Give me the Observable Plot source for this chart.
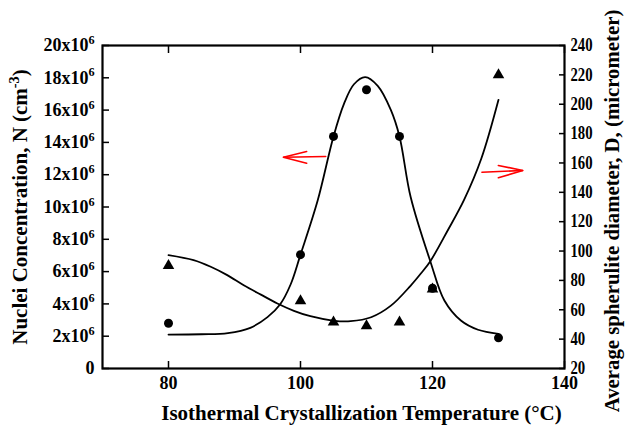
<!DOCTYPE html>
<html><head><meta charset="utf-8">
<script src="https://cdn.jsdelivr.net/npm/d3@7"></script>
<script src="https://cdn.jsdelivr.net/npm/@observablehq/plot@0.6"></script>
<style>body{margin:0;background:#fff}</style>
</head><body><div id="chart"></div>
<script>
// Measured data (x: °C; nuclei in units of 10^6 cm^-3; diameter in micrometer)
const temps = [80, 100, 105, 110, 115, 120, 130];
const nuclei = [2.8, 7.05, 14.37, 17.26, 14.37, 4.97, 1.9];
const diam = [90, 66, 51.5, 49, 51.5, 74, 220];

// Fitted curves
const fitNT = [80, 85, 89, 92.4, 95, 96.9, 98.5, 100, 102.6, 105, 106.6, 108.1, 109.8, 111.7, 113.7, 115, 116.7, 119.7, 121.8, 124.3, 126.9, 130];
const fitNV = [2.1, 2.12, 2.19, 2.52, 3.18, 3.96, 5.2, 7.05, 10.4, 14.37, 16.4, 17.6, 18.04, 17.5, 16.0, 14.37, 10.6, 6.6, 4.21, 2.97, 2.4, 2.15];
const fitDT = [80, 83.8, 86.4, 88.9, 91.4, 94.0, 96.5, 99.0, 101.5, 105.1, 107.6, 110.7, 113.7, 116.7, 118.2, 119.7, 122.3, 124.8, 127.4, 130];
const fitDV = [97.2, 93.8, 89.3, 83.6, 76.7, 70.3, 64.3, 59.3, 55.6, 52.5, 52.2, 54.9, 62.8, 76.5, 84.5, 93.3, 114, 135, 163, 203];

// Red annotation arrows (left one on left axis, right one on right axis)
const arrowLeftX = [103.82, 97.4];
const arrowLeftY = [13.13, 13.08];
const arrowLeftHeadX = [100.93, 97.4, 100.93];
const arrowLeftHeadY = [13.44, 13.08, 12.71];
const arrowRightX = [127.49, 133.69];
const arrowRightY = [153.7, 154.9];
const arrowRightHeadX = [129.98, 133.69, 129.98];
const arrowRightHeadY = [158.3, 154.9, 149.9];

// Ticks
const xTicks = [80, 100, 120, 140];
const yLeftTicks = [0, 2, 4, 6, 8, 10, 12, 14, 16, 18, 20];
const yRightTicks = [20, 40, 60, 80, 100, 120, 140, 160, 180, 200, 220, 240];

const xLabel = "Isothermal Crystallization Temperature (°C)";
const yLeftLabel = "Nuclei Concentration, N (cm^{-3})";
const yRightLabel = "Average spherulite diameter, D, (micrometer)";

// right axis (20..240) mapped onto left scale (0..20)
const toLeft = d => (d - 20) / 220 * 20;
const fromLeft = v => v / 20 * 220 + 20;

const circles = temps.map((t, i) => ({t, v: nuclei[i]}));
const tris = temps.map((t, i) => ({t, v: toLeft(diam[i])}));
const fitN = fitNT.map((t, i) => ({t, v: fitNV[i]}));
const fitD = fitDT.map((t, i) => ({t, v: toLeft(fitDV[i])}));
const shafts = [
  ...arrowLeftX.map((t, i) => ({id: "L", t, v: arrowLeftY[i]})),
  ...arrowRightX.map((t, i) => ({id: "R", t, v: toLeft(arrowRightY[i])}))
];
const heads = [
  ...arrowLeftHeadX.map((t, i) => ({id: "L", t, v: arrowLeftHeadY[i]})),
  ...arrowRightHeadX.map((t, i) => ({id: "R", t, v: toLeft(arrowRightHeadY[i])}))
];

const plot = Plot.plot({
  width: 625, height: 427,
  marginLeft: 102, marginRight: 61, marginTop: 45, marginBottom: 59,
  x: {domain: [70, 140]},
  y: {domain: [0, 20]},
  style: {fontFamily: "'Liberation Serif', 'Times New Roman', serif", fontSize: "18px", fontWeight: "bold", color: "black", background: "white", overflow: "visible"},
  marks: [
    Plot.axisX({ticks: xTicks, tickSize: -7, tickPadding: 15, strokeWidth: 1.5, tickFormat: d => String(d), fontSize: 18, label: null}),
    Plot.axisX({anchor: "top", ticks: xTicks, tickSize: -7, strokeWidth: 1.5, tickFormat: () => "", label: null}),
    Plot.axisY({ticks: yLeftTicks, tickSize: -7, tickPadding: 15, strokeWidth: 1.5, tickFormat: d => d === 0 ? "0" : `${d}x10^{6}`, fontSize: 18, label: null}),
    Plot.axisY({anchor: "right", ticks: yRightTicks.map(toLeft), tickSize: -6, tickPadding: 12, strokeWidth: 1.5, tickFormat: v => String(Math.round(fromLeft(v))), fontSize: 18, label: null}),
    Plot.frame({strokeWidth: 2.2}),
    Plot.line(fitN, {x: "t", y: "v", curve: "catmull-rom", strokeWidth: 1.8}),
    Plot.line(fitD, {x: "t", y: "v", curve: "catmull-rom", strokeWidth: 1.8}),
    Plot.dot(circles, {x: "t", y: "v", r: 4.5, fill: "black", symbol: "circle"}),
    Plot.dot(tris, {x: "t", y: "v", r: 4.3, fill: "black", symbol: "triangle"}),
    Plot.line(shafts, {x: "t", y: "v", z: "id", stroke: "red", strokeWidth: 1.6}),
    Plot.line(heads, {x: "t", y: "v", z: "id", stroke: "red", strokeWidth: 1.6, strokeLinejoin: "miter"}),
    Plot.text([xLabel], {text: d => d, frameAnchor: "bottom", dx: 28, dy: 45, fontSize: 21, lineAnchor: "middle", textAnchor: "middle"}),
    Plot.text([yLeftLabel], {text: d => d, frameAnchor: "left", dx: -82, rotate: -90, fontSize: 21, lineAnchor: "middle", textAnchor: "middle"}),
    Plot.text([yRightLabel], {text: d => d, frameAnchor: "right", dx: 48, dy: 4, rotate: -90, fontSize: 20.8, lineAnchor: "middle", textAnchor: "middle"})
  ]
});
document.getElementById("chart").appendChild(plot);

// superscripts: "a^{b}c"
plot.querySelectorAll("text").forEach(t => {
  const s = t.textContent;
  if (!s.includes("^{")) return;
  const fs = parseFloat(getComputedStyle(t).fontSize);
  t.textContent = "";
  const re = /\^\{([^}]*)\}/g;
  let last = 0, m;
  const ns = "http://www.w3.org/2000/svg";
  while ((m = re.exec(s))) {
    const a = document.createElementNS(ns, "tspan");
    a.textContent = s.slice(last, m.index);
    t.appendChild(a);
    const sup = document.createElementNS(ns, "tspan");
    sup.textContent = m[1];
    sup.setAttribute("dy", (-0.4 * fs).toFixed(2));
    sup.setAttribute("font-size", (0.68 * fs).toFixed(2));
    t.appendChild(sup);
    last = re.lastIndex;
    const rest = s.slice(last).split("^{")[0];
    const b = document.createElementNS(ns, "tspan");
    b.textContent = rest;
    b.setAttribute("dy", (0.4 * fs).toFixed(2));
    t.appendChild(b);
    last += rest.length;
  }
});
// narrower right-axis tick labels, as in the reference
plot.querySelectorAll("g[aria-label='y-axis tick label']").forEach(g => {
  if (g.getAttribute("text-anchor") !== "start") return;
  g.querySelectorAll("text").forEach(t => {
    const tr = t.getAttribute("transform");
    if (tr) t.setAttribute("transform", tr + " scale(0.82,1)");
  });
});
</script>
</body></html>
